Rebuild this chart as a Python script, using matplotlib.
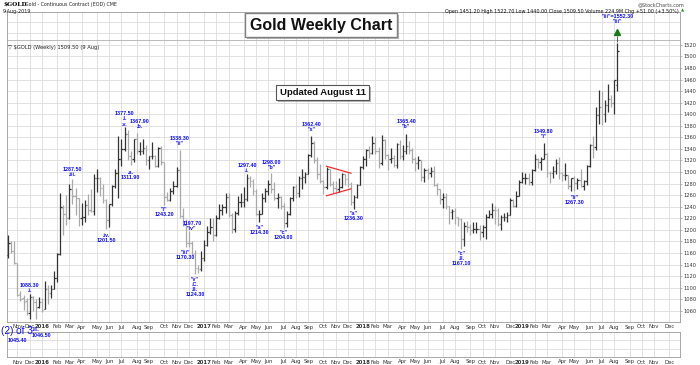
import numpy as np
import pandas as pd
import matplotlib
matplotlib.use('Agg')
import matplotlib.pyplot as plt
import matplotlib.patheffects as pe

# ---- DATA: weekly gold bars, Fridays 16-Oct-2015 .. 9-Aug-2019 ----------
weeks = pd.date_range('2015-10-16', '2019-08-09', freq='W-FRI')

opens = [
    # 2015
    1156, 1177, 1163, 1142, 1089, 1082, 1077, 1056, 1084, 1075, 1066,
    # 2016
    1076, 1063, 1098, 1090, 1097, 1117, 1158, 1238, 1227, 1221, 1271, 1259, 1255,
    1220, 1222, 1243, 1234, 1232, 1290, 1290, 1273, 1252, 1217, 1244, 1276, 1298,
    1322, 1340, 1366, 1327, 1322, 1357, 1336, 1337, 1341, 1320, 1327, 1328, 1311,
    1342, 1317, 1256, 1252, 1267, 1276, 1304, 1224, 1209, 1178, 1177, 1159, 1134, 1133,
    # 2017
    1152, 1173, 1197, 1205, 1191, 1220, 1234, 1239, 1257, 1226, 1201, 1230, 1249,
    1249, 1254, 1289, 1285, 1268, 1227, 1228, 1255, 1268, 1280, 1271, 1255, 1256,
    1241, 1212, 1228, 1255, 1274, 1264, 1290, 1291, 1297, 1330, 1351, 1320, 1297,
    1284, 1275, 1305, 1280, 1272, 1270, 1274, 1296, 1288, 1280, 1248, 1257, 1278,
    # 2018
    1309, 1322, 1338, 1333, 1350, 1337, 1316, 1356, 1330, 1323, 1324, 1313, 1349,
    1327, 1336, 1345, 1338, 1323, 1315, 1320, 1291, 1303, 1298, 1302, 1278, 1270,
    1254, 1256, 1241, 1231, 1233, 1223, 1219, 1184, 1206, 1205, 1200, 1201, 1201,
    1196, 1205, 1222, 1228, 1235, 1234, 1210, 1223, 1223, 1226, 1252, 1241, 1259,
    # 2019
    1283, 1289, 1289, 1282, 1303, 1322, 1318, 1322, 1332, 1299, 1298, 1302, 1315,
    1298, 1295, 1295, 1276, 1289, 1281, 1287, 1276, 1285, 1311, 1346, 1344, 1399,
    1413, 1400, 1416, 1426, 1419, 1451.2,
]
highs = [
    1191, 1180, 1180, 1143, 1094, 1088, 1082, 1088.3, 1086, 1080, 1084,
    1082, 1111, 1105, 1105, 1128, 1160, 1263, 1243, 1260, 1280, 1287.5, 1272, 1255,
    1246, 1252, 1262, 1271, 1297, 1306, 1291, 1280, 1254, 1245, 1278, 1306, 1362,
    1358, 1377.5, 1372, 1337, 1358, 1367.9, 1352, 1358, 1347, 1328, 1352, 1330, 1344,
    1345, 1318, 1266, 1273, 1284, 1308, 1338.3, 1237, 1219, 1197.7, 1180, 1166, 1140, 1164,
    1182, 1207, 1220, 1221, 1226, 1245, 1245, 1264, 1263, 1230, 1233, 1259, 1264,
    1275, 1297.4, 1294, 1288, 1271, 1235, 1264, 1272, 1286, 1298, 1282, 1263, 1258,
    1246, 1233, 1257, 1276, 1279, 1294, 1306, 1300, 1332, 1362.4, 1354, 1326, 1314,
    1286, 1309, 1306, 1285, 1284, 1290, 1298, 1297, 1300, 1283, 1261, 1279, 1310,
    1327, 1340, 1345, 1362, 1361, 1344, 1364, 1357, 1332, 1341, 1330, 1350, 1356,
    1347, 1365.4, 1354, 1341, 1326, 1328, 1321, 1307, 1307, 1308, 1310, 1281, 1271,
    1263, 1263, 1242, 1236, 1237, 1223, 1220, 1213, 1215, 1210, 1214, 1214, 1208,
    1209, 1228, 1235, 1246, 1241, 1238, 1226, 1230, 1231, 1255, 1253, 1267, 1287,
    1300, 1298, 1299, 1305, 1331, 1324, 1326, 1349.8, 1333, 1301, 1311, 1322, 1326,
    1300, 1316, 1295, 1290, 1293, 1289, 1305, 1287, 1313, 1349, 1362, 1412, 1442,
    1440, 1424, 1453, 1433, 1459, 1522.7,
]
lows = [
    1152, 1160, 1141, 1085, 1077, 1062, 1052, 1046.5, 1060, 1045.4, 1064,
    1058, 1063, 1071, 1082, 1097, 1110, 1157, 1191, 1208, 1218, 1244, 1226, 1206,
    1208, 1214, 1225, 1231, 1226, 1265, 1259, 1246, 1201.5, 1205, 1241, 1273, 1255,
    1310, 1336, 1320, 1311.9, 1318, 1331, 1329, 1331, 1312, 1305, 1322, 1309, 1308,
    1312, 1243.2, 1250, 1250, 1262, 1274, 1220, 1206, 1170.3, 1171, 1156, 1124.3, 1125, 1128,
    1146, 1172, 1193, 1180, 1190, 1218, 1225, 1230, 1223, 1195, 1196, 1226, 1240,
    1240, 1250, 1275, 1261, 1225, 1214.3, 1227, 1248, 1260, 1264, 1251, 1237, 1236,
    1204, 1205, 1226, 1250, 1255, 1256, 1271, 1281, 1296, 1326, 1316, 1288, 1281,
    1262, 1271, 1276, 1263, 1262, 1266, 1272, 1277, 1274, 1243, 1236.3, 1255, 1277,
    1306, 1311, 1325, 1331, 1331, 1307, 1313, 1322, 1304, 1316, 1309, 1307, 1322,
    1321, 1331, 1331, 1315, 1302, 1305, 1285, 1282, 1288, 1291, 1276, 1261, 1245,
    1238, 1236, 1211, 1219, 1210, 1207, 1167.1, 1172, 1197, 1191, 1195, 1195, 1182,
    1187, 1184, 1221, 1221, 1211, 1206, 1199, 1216, 1214, 1225, 1239, 1240, 1259,
    1281, 1280, 1278, 1278, 1302, 1307, 1303, 1322, 1292, 1281, 1290, 1297, 1288,
    1284, 1287, 1271, 1268, 1267.3, 1270, 1274, 1269, 1278, 1309, 1324, 1339, 1384,
    1382, 1386, 1404, 1412, 1400, 1440,
]
closes = [
    1177, 1163, 1142, 1088, 1081, 1076, 1056, 1084, 1075, 1065, 1076,
    1061, 1098, 1090, 1097, 1117, 1158, 1239, 1227, 1221, 1271, 1259, 1255, 1220,
    1222, 1243, 1234, 1232, 1290, 1290, 1272, 1252, 1217, 1244, 1276, 1298, 1322,
    1340, 1366, 1328, 1322, 1357, 1336, 1337, 1341, 1321, 1327, 1328, 1310, 1342,
    1317, 1256, 1252, 1267, 1276, 1304, 1224, 1209, 1178, 1177, 1159, 1134, 1133, 1152,
    1173, 1197, 1205, 1191, 1220, 1234, 1239, 1257, 1226, 1201, 1230, 1249, 1249,
    1254, 1289, 1285, 1268, 1227, 1228, 1255, 1268, 1280, 1271, 1255, 1256, 1241,
    1212, 1228, 1255, 1274, 1264, 1290, 1291, 1297, 1330, 1351, 1320, 1297, 1284,
    1275, 1305, 1280, 1272, 1270, 1274, 1296, 1288, 1280, 1248, 1257, 1278, 1309,
    1322, 1338, 1333, 1350, 1337, 1316, 1356, 1330, 1323, 1324, 1313, 1349, 1327,
    1336, 1345, 1338, 1323, 1315, 1320, 1291, 1303, 1298, 1302, 1278, 1270, 1254,
    1256, 1241, 1231, 1233, 1223, 1219, 1184, 1206, 1205, 1200, 1201, 1201, 1196,
    1205, 1222, 1228, 1235, 1234, 1210, 1223, 1223, 1226, 1252, 1241, 1259, 1283,
    1289, 1289, 1282, 1303, 1322, 1318, 1322, 1332, 1299, 1298, 1302, 1315, 1298,
    1295, 1295, 1276, 1289, 1281, 1287, 1276, 1285, 1311, 1346, 1344, 1399, 1413,
    1400, 1416, 1426, 1419, 1458.5, 1509.5,
]

# Elliott wave notes written on the chart (week, price level, text)
note_weeks = ['2015-12-04', '2015-11-06', '2016-01-01', '2016-03-11', '2016-05-27',
              '2016-07-08', '2016-08-12', '2016-07-22', '2016-11-11', '2016-10-07',
              '2016-11-25', '2016-12-09', '2016-12-16', '2017-04-14', '2017-05-12',
              '2017-06-09', '2017-07-07', '2017-09-08', '2017-12-15', '2018-04-13',
              '2018-08-17', '2019-02-22', '2019-05-03', '2019-08-09']
note_prices = [1099, 1009, 1018, 1300, 1186, 1392, 1383, 1295, 1354, 1231,
               1156, 1207, 1101, 1307, 1200, 1312, 1191, 1378, 1224, 1383,
               1150, 1366, 1252, 1565]
note_texts = ['1088.30\n.i.', '1045.40', '1046.50', '1287.50\n.iii.', '.iv.\n1201.50',
              '1377.50\n.I.\n.v.', '1367.90\n.b.', '.a.\n1311.90', '1338.30\n"ii"',
              '"i"\n1243.20', '"iii"\n1170.30', '1197.70\n"iv"',
              '"v"\n.C.\n.II.\n1124.30', '1297.40\n.i.', '"a"\n1214.30',
              '1298.00\n"b"', '"c"\n1204.00', '1362.40\n"x"', '"a"\n1236.30',
              '1365.40\n"b"', '"c"\n.II.\n1167.10', '1349.80\n"i"', '"ii"\n1267.30',
              '"iii"=1552.30\n"iii"']

# triangle drawn in late 2017
tri_weeks = ['2017-10-13', '2017-12-08']
tri_upper = [1310, 1298]
tri_lower = [1259, 1271]

target_price = 1542

# ---- FIGURE -------------------------------------------------------------
W, H = 700, 365
fig = plt.figure(figsize=(7, 3.65), dpi=100)


def px_box(l, t, r, b):
    return [l / W, 1 - b / H, (r - l) / W, (b - t) / H]


ax_low = fig.add_axes(px_box(7, 332, 680, 357))
ax = fig.add_axes(px_box(7, 12, 680, 322))
ax_low.set_zorder(1)
ax.set_zorder(2)

week_idx = {d.strftime('%Y-%m-%d'): i for i, d in enumerate(weeks)}
x = np.arange(len(weeks))
o, h, l, c = map(np.array, (opens, highs, lows, closes))

bar_col = np.where(c < o, '#a9a9a9', '#333333')
ax.vlines(x, l, h, colors=bar_col, lw=0.9, zorder=3)
ax.hlines(o, x - 0.45, x, colors=bar_col, lw=0.9, zorder=3)
ax.hlines(c, x, x + 0.45, colors=bar_col, lw=0.9, zorder=3)

# month ticks (axis runs on past the last bar to December)
axis_weeks = pd.date_range('2015-10-16', '2019-12-27', freq='W-FRI')
tick_pos, tick_lab = [], []
for i in range(1, len(axis_weeks)):
    if axis_weeks[i].month != axis_weeks[i - 1].month:
        tick_pos.append(i)
        d = axis_weeks[i]
        tick_lab.append(str(d.year) if d.month == 1 else d.strftime('%b'))

grid_col = '#dcdcdc'
for a in (ax, ax_low):
    a.set_xlim(-0.4, 219.5)
    a.set_xticks(tick_pos)
    a.set_xticklabels(tick_lab, fontsize=3.9, color='#333333')
    for t in a.get_xticklabels():
        if t.get_text().isdigit():
            t.set_fontweight('bold')
    a.tick_params(axis='x', length=0, pad=1.8)
    a.grid(True, axis='x', color=grid_col, lw=0.6)
    for s in a.spines.values():
        s.set_color('#9a9a9a')
        s.set_linewidth(0.6)
    a.set_axisbelow(True)

ax.set_ylim(1040.6, 1576.9)
ax.set_yticks(np.arange(1060, 1521, 20))
ax.set_yticks([1540, 1560], minor=True)
ax.yaxis.tick_right()
ax.tick_params(axis='y', which='major', labelsize=3.7, labelcolor='#333333',
               length=1.5, width=0.5, color='#999999', pad=0.8)
ax.tick_params(axis='y', which='minor', length=0)
ax.grid(True, axis='y', which='both', color=grid_col, lw=0.6)
ax.axhline(1528.4, color='#b0b0b0', lw=0.6)

ax_low.set_ylim(0, 3)
ax_low.set_yticks([1, 2])
ax_low.set_yticklabels([])
ax_low.tick_params(axis='y', length=0)
ax_low.grid(True, axis='y', color=grid_col, lw=0.6)

# triangle lines
tx = [week_idx[d] for d in tri_weeks]
ax.plot(tx, tri_upper, color='#f03030', lw=0.9, zorder=4)
ax.plot(tx, tri_lower, color='#f03030', lw=0.9, zorder=4)

# wave notes
for d, p, t in zip(note_weeks, note_prices, note_texts):
    ax.text(week_idx[d], p, t, ha='center', va='center', fontsize=3.9,
            color='#1010ee', fontweight='bold', family='Liberation Sans',
            linespacing=1.05, clip_on=False, zorder=5)
ax.text(week_idx['2015-11-06'], 1025, '(2) of 3', ha='center', va='center',
        fontsize=7.2, color='#1010ee', family='Liberation Sans', clip_on=False, zorder=5)
ax.text(week_idx['2015-12-18'], 1027, '.II.', ha='center', va='center', fontsize=3.9,
        color='#1010ee', fontweight='bold', clip_on=False, zorder=5)

last = x[-1]
ax.plot([last], [target_price], marker='^', color='#1a7a1a', ms=4.5, zorder=5)
ax.vlines(last, h[-1] + 3, target_price - 6, colors='#444444', lw=0.6, zorder=5)

# title boxes with a light drop shadow
shadow = [pe.SimplePatchShadow(offset=(1.3, -1.3), shadow_rgbFace='#888888', alpha=0.6),
          pe.Normal()]
t1 = ax.text(0.467, 0.958, 'Gold Weekly Chart', transform=ax.transAxes,
             ha='center', va='center', fontsize=11.5, fontweight='bold',
             family='Liberation Sans', color='#111111', zorder=6,
             bbox=dict(boxstyle='square,pad=0.3', fc='white', ec='#808080', lw=1.0))
t2 = ax.text(0.469, 0.740, 'Updated August 11', transform=ax.transAxes,
             ha='center', va='center', fontsize=6.8, fontweight='bold',
             family='Liberation Sans', color='#111111', zorder=6,
             bbox=dict(boxstyle='square,pad=0.35', fc='white', ec='#555555', lw=0.8))
for t in (t1, t2):
    t.get_bbox_patch().set_path_effects(shadow)

ax.text(0.0015, 0.887, '\u25bd $GOLD (Weekly) 1509.50 (9 Aug)', transform=ax.transAxes,
        ha='left', va='center', fontsize=3.7, color='#222222', zorder=6)

# header
fig.text(3 / W, 1 - 4.5 / H, '$GOLD', fontsize=4.2, fontweight='bold',
         family='DejaVu Serif', va='center', ha='left')
fig.text(25 / W, 1 - 4.5 / H, 'Gold - Continuous Contract (EOD) CME', fontsize=3.4,
         va='center', ha='left', color='#222222')
fig.text(3 / W, 1 - 11 / H, '9-Aug-2019', fontsize=3.5, va='center', ha='left',
         color='#222222')
fig.text(684 / W, 1 - 4.5 / H, '@StockCharts.com', fontsize=3.5, va='center',
         ha='right', color='#444444')
fig.text(679 / W, 1 - 11 / H,
         'Open 1451.20 High 1522.70 Low 1440.00 Close 1509.50 Volume 224.9M '
         'Chg +51.00 (+3.50%)', fontsize=3.5, va='center', ha='right', color='#111111')
fig.text(683 / W, 1 - 11 / H, '\u25b2', fontsize=3, va='center', ha='center',
         color='#1a8a1a')

fig.savefig('out.png', dpi=100)
